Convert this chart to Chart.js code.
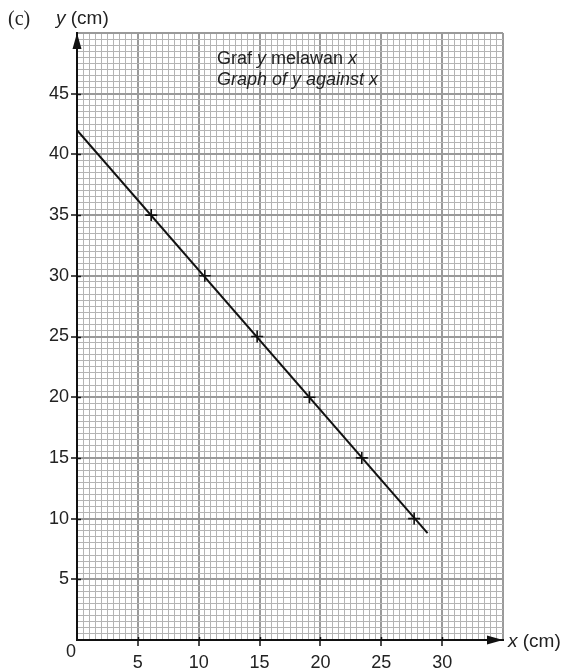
<!DOCTYPE html>
<html>
<head>
<meta charset="utf-8">
<script src="https://cdn.jsdelivr.net/npm/chart.js@4/dist/chart.umd.min.js"></script>
<style>
  html, body { margin: 0; padding: 0; background: #fff; }
  #wrap { width: 568px; height: 669px; }
</style>
</head>
<body>
<div id="wrap"><canvas id="graf" width="568" height="669"></canvas></div>
<script>
// ==== Data ====
const xPoints = [6.1, 10.5, 14.8, 19.1, 23.4, 27.7];
const yPoints = [35, 30, 25, 20, 15, 10];

// best fit line drawn by hand: starts on the y axis, stops just past the last point
const lineX = [0, 28.8];
const lineY = [42, 8.8];

const xTickLabels = [5, 10, 15, 20, 25, 30];
const yTickLabels = [5, 10, 15, 20, 25, 30, 35, 40, 45];

const xMax = 35, yMax = 50;
const gridStep = 0.5;

// ==== helpers ====
const SANS = "'Liberation Sans', Arial, sans-serif";
const SERIF = "'Liberation Serif', 'Times New Roman', serif";

function isMajor(v) {
  return Math.abs(v / 5 - Math.round(v / 5)) < 1e-6;
}
function hasLabel(list, v) {
  return list.some(t => Math.abs(t - v) < 1e-6);
}
function gridColor(c) {
  return isMajor(c.tick.value) ? '#9a9a9a' : '#b4b4b4';
}
function gridWidth(c) {
  return isMajor(c.tick.value) ? 2 : 1;
}

// draw a run of text pieces, some of them italic
function drawPieces(ctx, pieces, x, y, size) {
  pieces.forEach(p => {
    ctx.font = (p.it ? 'italic ' : '') + size + 'px ' + SANS;
    ctx.fillText(p.t, x, y);
    x += ctx.measureText(p.t).width;
  });
}

// ==== arrows, axis titles and the note on the paper ====
const paperDecor = {
  id: 'paperDecor',
  afterDraw(chart) {
    const ctx = chart.ctx;
    const a = chart.chartArea;
    const xs = chart.scales.x, ys = chart.scales.y;
    ctx.save();
    ctx.fillStyle = '#111';
    ctx.strokeStyle = '#111';

    // inner half of the tick marks
    ctx.lineWidth = 1.5;
    xTickLabels.forEach(v => {
      const px = Math.round(xs.getPixelForValue(v)) + 0.5;
      ctx.beginPath(); ctx.moveTo(px, a.bottom); ctx.lineTo(px, a.bottom - 3); ctx.stroke();
    });
    yTickLabels.forEach(v => {
      const py = Math.round(ys.getPixelForValue(v)) + 0.5;
      ctx.beginPath(); ctx.moveTo(a.left, py); ctx.lineTo(a.left + 4, py); ctx.stroke();
    });

    // arrow heads
    const ox = xs.getPixelForValue(0), oy = ys.getPixelForValue(0);
    ctx.beginPath();
    ctx.moveTo(ox, a.top);
    ctx.lineTo(ox - 4.5, a.top + 16);
    ctx.lineTo(ox + 4.5, a.top + 16);
    ctx.closePath();
    ctx.fill();
    ctx.beginPath();
    ctx.moveTo(a.right, oy);
    ctx.lineTo(a.right - 16, oy - 4.5);
    ctx.lineTo(a.right - 16, oy + 4.5);
    ctx.closePath();
    ctx.fill();

    // labels
    ctx.fillStyle = '#222';
    ctx.textBaseline = 'alphabetic';
    ctx.textAlign = 'left';
    ctx.font = '20px ' + SERIF;
    ctx.fillText('(c)', 8, 25);
    drawPieces(ctx, [{ t: 'y', it: true }, { t: ' (cm)' }], 56, 24, 19);
    drawPieces(ctx, [{ t: 'x', it: true }, { t: ' (cm)' }], 508, 647, 19);

    ctx.textAlign = 'center';
    ctx.font = '18px ' + SANS;
    ctx.fillText('0', ox - 6, 657);

    ctx.textAlign = 'left';
    drawPieces(ctx, [{ t: 'Graf ' }, { t: 'y', it: true }, { t: ' melawan ' }, { t: 'x', it: true }], 217, 64, 18);
    drawPieces(ctx, [{ t: 'Graph of y against x', it: true }], 217, 85, 18);
    ctx.restore();
  }
};

// ==== chart ====
new Chart(document.getElementById('graf').getContext('2d'), {
  type: 'scatter',
  data: {
    datasets: [
      {
        label: 'garis',
        data: lineX.map((x, i) => ({ x: x, y: lineY[i] })),
        showLine: true,
        borderColor: '#111',
        borderWidth: 2,
        pointRadius: 0,
        order: 2
      },
      {
        label: 'titik',
        data: xPoints.map((x, i) => ({ x: x, y: yPoints[i] })),
        pointStyle: 'cross',
        pointRadius: 6,
        borderColor: '#111',
        borderWidth: 1.6,
        order: 1
      }
    ]
  },
  options: {
    responsive: false,
    animation: false,
    devicePixelRatio: 1,
    layout: { padding: { left: 0, right: 65, top: 33, bottom: 0 } },
    plugins: { legend: { display: false }, tooltip: { enabled: false } },
    scales: {
      x: {
        type: 'linear',
        min: 0,
        max: xMax,
        afterFit(scale) { scale.height = 29; },
        border: { color: '#111', width: 2 },
        grid: {
          color: gridColor,
          lineWidth: gridWidth,
          tickLength: 6,
          tickColor: c => hasLabel(xTickLabels, c.tick.value) ? '#111' : 'rgba(0,0,0,0)',
          tickWidth: 1.5
        },
        ticks: {
          stepSize: gridStep,
          autoSkip: false,
          maxRotation: 0,
          minRotation: 0,
          padding: 6,
          color: '#222',
          font: { family: SANS, size: 18 },
          callback: v => hasLabel(xTickLabels, v) ? String(Math.round(v)) : ''
        }
      },
      y: {
        type: 'linear',
        min: 0,
        max: yMax,
        afterFit(scale) { scale.width = 77; },
        border: { color: '#111', width: 2 },
        grid: {
          color: gridColor,
          lineWidth: gridWidth,
          tickLength: 6,
          tickColor: c => hasLabel(yTickLabels, c.tick.value) ? '#111' : 'rgba(0,0,0,0)',
          tickWidth: 1.5
        },
        ticks: {
          stepSize: gridStep,
          autoSkip: false,
          padding: 2,
          color: '#222',
          font: { family: SANS, size: 18 },
          callback: v => hasLabel(yTickLabels, v) ? String(Math.round(v)) : ''
        }
      }
    }
  },
  plugins: [paperDecor]
});
</script>
</body>
</html>
